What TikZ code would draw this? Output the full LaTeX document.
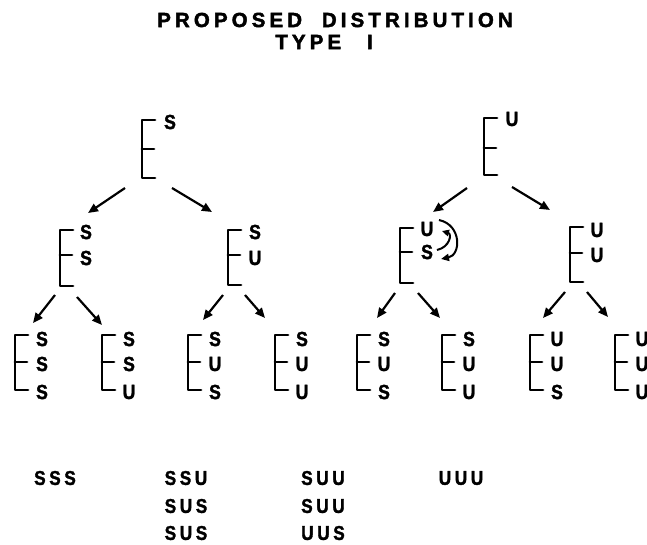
\documentclass[tikz,border=0pt]{standalone}
\usepackage{fontspec}
\setmainfont{Liberation Sans}
\usetikzlibrary{arrows.meta}

% bracket: name, x, top, tick, bottom
\newcommand\brk[5]{%
  \coordinate (#1) at (#2,#3);
  \draw[brkline] (#2+13,#3) -- (#2,#3) -- (#2,#5) -- (#2+13,#5);
  \draw[brkline] (#2,#4) -- (#2+12,#4);
}
% three-letter column of labels beside a lower bracket
\newcommand\trio[5]{%
  \node[lab] (#1a) at (#2+27,339) {#3};
  \node[lab] (#1b) at (#2+27,364) {#4};
  \node[lab] (#1c) at (#2+27,392) {#5};
}

\begin{document}
\begin{tikzpicture}[x=1pt,y=-1pt,
  brkline/.style={line width=2.7pt,line cap=round,line join=round},
  arr/.style={line width=2.2pt,-{Triangle[length=10pt,width=8.5pt]}},
  lab/.style={font=\fontsize{20.5}{20.5}\bfseries\addfontfeature{FakeBold=1.6,FakeStretch=0.86}\selectfont,inner sep=0pt},
  ttl/.style={font=\fontsize{20.5}{20.5}\bfseries\addfontfeature{LetterSpace=20,FakeBold=2}\selectfont,inner sep=0pt},
  res/.style={font=\fontsize{20}{20}\bfseries\addfontfeature{LetterSpace=18,FakeBold=1.6,FakeStretch=0.86}\selectfont,inner sep=0pt}]
\useasboundingbox (0,0) rectangle (647,544);

% heading
\node[ttl] (title1) at (335,20) {PROPOSED\hspace{10pt} DISTRIBUTION};
\node[ttl] (title2) at (324,42) {TYPE\hspace{16pt} I};

% root brackets
\brk{rootS}{142}{120}{149}{178}
\node[lab] (rootSl) at (170,122) {S};
\brk{rootU}{484}{118}{148}{175}
\node[lab] (rootUl) at (512,119) {U};

% second level
\brk{lS}{60}{230}{255}{286}
\node[lab] (lSa) at (86,232) {S};
\node[lab] (lSb) at (86,258) {S};
\brk{lU}{228}{230}{255}{285}
\node[lab] (lUa) at (255,232) {S};
\node[lab] (lUb) at (255,258) {U};
\brk{rS}{400}{228}{252}{283}
\node[lab] (rSa) at (427,229) {U};
\node[lab] (rSb) at (427,252) {S};
\brk{rU}{570}{227}{253}{282}
\node[lab] (rUa) at (597,230) {U};
\node[lab] (rUb) at (597,255) {U};

% third level
\brk{b1}{15}{335}{362}{390}   \trio{b1}{15}{S}{S}{S}
\brk{b2}{102}{335}{362}{390}  \trio{b2}{102}{S}{S}{U}
\brk{b3}{188}{335}{362}{390}  \trio{b3}{188}{S}{U}{S}
\brk{b4}{275}{335}{362}{390}  \trio{b4}{275}{S}{U}{U}
\brk{b5}{357}{335}{362}{390}  \trio{b5}{357}{S}{U}{S}
\brk{b6}{442}{335}{362}{390}  \trio{b6}{442}{S}{U}{U}
\brk{b7}{530}{335}{362}{390}  \trio{b7}{530}{U}{U}{S}
\brk{b8}{615}{335}{362}{390}  \trio{b8}{615}{U}{U}{U}

% arrow end points
\coordinate (a1s) at (125,188); \coordinate (a1e) at (88,213);
\coordinate (a2s) at (172,188); \coordinate (a2e) at (212,212);
\coordinate (a3s) at (55,295);  \coordinate (a3e) at (33,323);
\coordinate (a4s) at (77,297);  \coordinate (a4e) at (102,325);
\coordinate (a5s) at (223,295); \coordinate (a5e) at (203,320);
\coordinate (a6s) at (245,295); \coordinate (a6e) at (265,318);
\coordinate (a7s) at (467,188); \coordinate (a7e) at (433,212);
\coordinate (a8s) at (512,187); \coordinate (a8e) at (550,210);
\coordinate (a9s) at (395,293); \coordinate (a9e) at (377,318);
\coordinate (a10s) at (418,293); \coordinate (a10e) at (440,318);
\coordinate (a11s) at (565,292); \coordinate (a11e) at (543,318);
\coordinate (a12s) at (587,292); \coordinate (a12e) at (608,317);

\foreach \i in {1,...,12} \draw[arr] (a\i s) -- (a\i e);

% exchange of U and S
\coordinate (sw1) at (439,220); \coordinate (sw2) at (441,259);
\coordinate (sw3) at (437,250); \coordinate (sw4) at (442,231);
\draw[arr,line width=2pt,-{Triangle[length=8pt,width=7pt]}] (sw1) .. controls (462,225) and (461,255) .. (sw2);
\draw[arr,line width=2pt,-{Triangle[length=7pt,width=6.5pt]}] (sw3) .. controls (450,247) and (452,234) .. (sw4);

% resulting sets
\node[res] (r1) at (55,478) {SSS};
\node[res] (r2a) at (186,478) {SSU};
\node[res] (r2b) at (186,506) {SUS};
\node[res] (r2c) at (186,533) {SUS};
\node[res] (r3a) at (323,478) {SUU};
\node[res] (r3b) at (323,506) {SUU};
\node[res] (r3c) at (323,533) {UUS};
\node[res] (r4) at (461,478) {UUU};
\end{tikzpicture}
\end{document}
